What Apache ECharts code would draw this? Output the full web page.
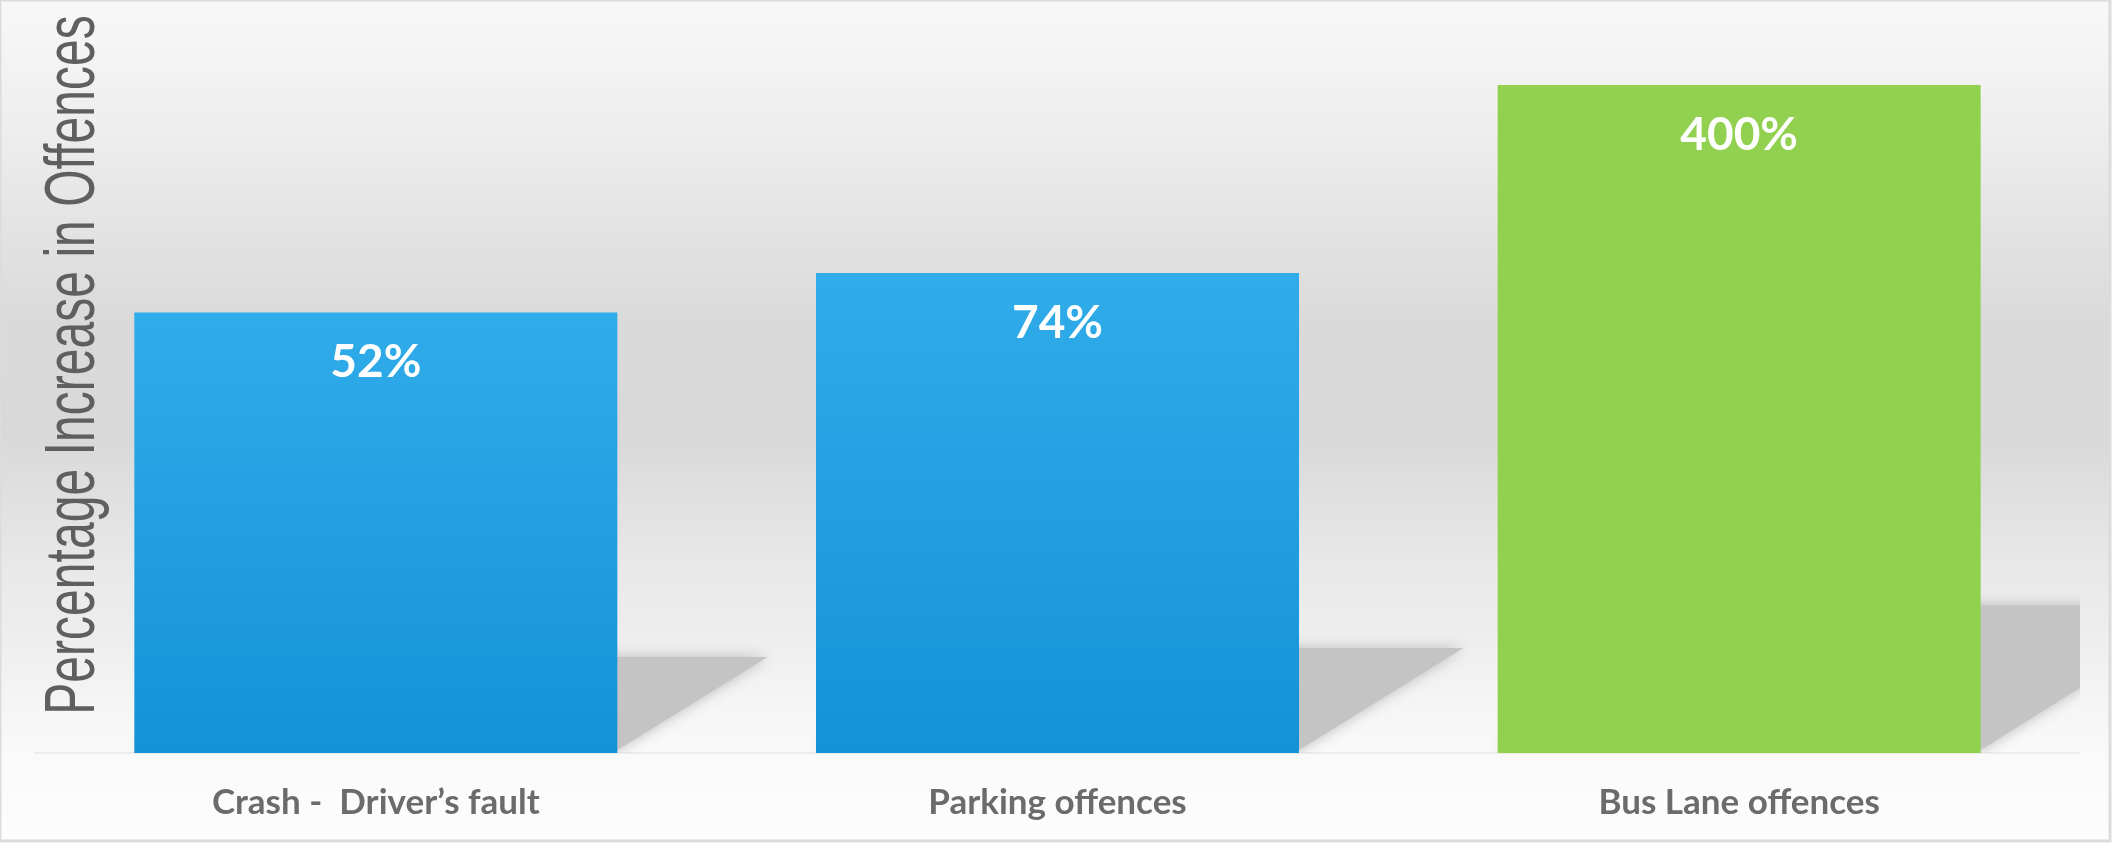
<!DOCTYPE html>
<html>
<head>
<meta charset="utf-8">
<script src="https://cdn.jsdelivr.net/npm/echarts@6/dist/echarts.min.js"></script>
<style>
  html, body { margin: 0; padding: 0; background: #fff; }
  #chart { width: 2113px; height: 843px; }
</style>
</head>
<body>
<div id="chart"></div>
<script>
// data
const categories = ['Crash -  Driver’s fault', 'Parking offences', 'Bus Lane offences']
const increases = [52, 74, 400]
const axisTitle = 'Percentage Increase in Offences'

const BAR_W = 483

const chart = echarts.init(document.getElementById('chart'))

const blueFill = new echarts.graphic.LinearGradient(0, 0, 0, 1, [
  { offset: 0, color: '#30acea' },
  { offset: 1, color: '#1492d8' }
])

// floor shadow drawn as a skewed copy of each bar
const renderShadow = (params, api) => {
  const top = api.coord([api.value(0), api.value(1)])
  const base = api.coord([api.value(0), 1])
  const h = base[1] - top[1]
  const left = base[0] - BAR_W / 2
  const right = base[0] + BAR_W / 2
  const dx = h * 0.355
  const dy = h * 0.227
  return {
    type: 'polygon',
    shape: {
      points: [
        [left, base[1] - 3],
        [right, base[1] - 3],
        [right + dx - 6, base[1] - dy + 4],
        [left + dx - 6, base[1] - dy + 4]
      ]
    },
    style: {
      fill: '#c4c4c4',
      shadowBlur: 14,
      shadowColor: 'rgba(180,180,180,0.9)'
    }
  }
}

const option = {
  animation: false,
  grid: { left: 35, right: 33, top: 60, bottom: 90 },
  graphic: [
    {
      type: 'rect',
      z: -10,
      shape: { x: 0, y: 0, width: 2110, height: 841 },
      style: {
        fill: new echarts.graphic.LinearGradient(0, 0, 0, 1, [
          { offset: 0, color: '#f8f8f8' },
          { offset: 0.15, color: '#eeeeee' },
          { offset: 0.38, color: '#dadada' },
          { offset: 0.52, color: '#d9d9d9' },
          { offset: 0.68, color: '#e9e9e9' },
          { offset: 0.76, color: '#eeeeee' },
          { offset: 0.85, color: '#f6f6f6' },
          { offset: 0.9, color: '#fafafa' },
          { offset: 1, color: '#fdfdfd' }
        ]),
        stroke: '#dcdcdc',
        lineWidth: 3
      }
    },
    {
      type: 'text',
      z: 10,
      x: 75,
      y: 365,
      rotation: Math.PI / 2,
      scaleX: 0.687,
      style: {
        text: axisTitle,
        font: '70px "Liberation Sans"',
        fill: '#5f5f5f',
        textAlign: 'center',
        textVerticalAlign: 'middle'
      }
    }
  ],
  xAxis: {
    type: 'category',
    data: categories,
    axisTick: { show: false },
    axisLine: { lineStyle: { color: '#ececec', width: 2 } },
    axisLabel: {
      margin: 32,
      color: '#6b6b6b',
      fontFamily: 'Lato',
      fontWeight: 'bold',
      fontSize: 35
    }
  },
  yAxis: {
    type: 'log',
    logBase: 10,
    min: 1,
    max: 500,
    show: false,
    splitLine: { show: false }
  },
  series: [
    {
      type: 'custom',
      z: 1,
      clip: true,
      silent: true,
      renderItem: renderShadow,
      data: increases.map((v, i) => [i, v])
    },
    {
      type: 'bar',
      z: 3,
      barWidth: BAR_W,
      data: increases.map((v, i) => ({
        value: v,
        itemStyle: { color: i === 2 ? '#92d050' : blueFill }
      })),
      label: {
        show: true,
        position: 'insideTop',
        distance: 27,
        formatter: p => p.value + '%',
        color: '#ffffff',
        fontFamily: 'Lato',
        fontWeight: 'bold',
        fontSize: 46
      }
    }
  ]
}

chart.setOption(option)
window.addEventListener('resize', () => chart.resize())
</script>
</body>
</html>
